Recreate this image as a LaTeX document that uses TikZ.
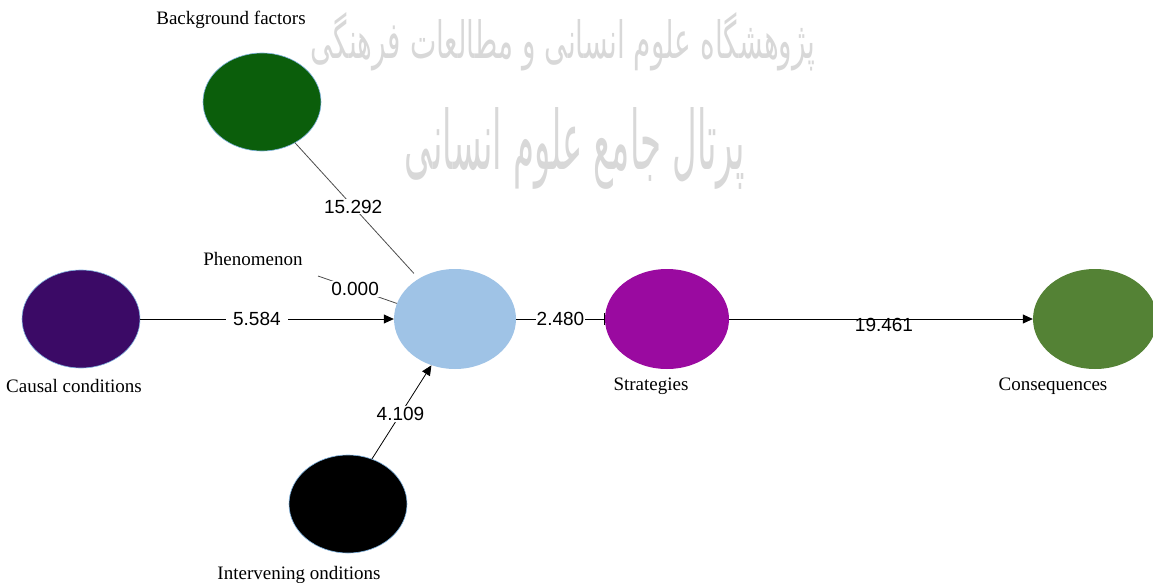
\documentclass[tikz,border=0pt]{standalone}
\usepackage{fontspec}
\usepackage{graphicx}
\setmainfont{Liberation Serif}
\newfontfamily\numfont{Liberation Sans}
\newfontfamily\wmfont[Script=Arabic]{DejaVu Sans}
\TeXXeTstate=1
\usetikzlibrary{shapes.geometric,arrows.meta}
\definecolor{bgc}{HTML}{0B5E0B}
\definecolor{cac}{HTML}{3B0A66}
\definecolor{phc}{HTML}{9FC3E6}
\definecolor{stc}{HTML}{9A0AA0}
\definecolor{coc}{HTML}{548235}
\definecolor{rimc}{HTML}{7FB3E0}
\definecolor{wmc}{HTML}{D8D8D8}
\begin{document}
\begin{tikzpicture}[x=1pt,y=-1pt,
  blob/.style={ellipse,minimum width=118pt,minimum height=98pt,inner sep=0pt},
  rim/.style={draw=rimc,line width=0.6pt},
  lab/.style={font=\fontsize{19}{21}\selectfont,inner sep=0pt},
  num/.style={font=\numfont\fontsize{19}{21}\selectfont,inner sep=1pt},
  conn/.style={line width=0.8pt,draw=black},
  tip/.style={-{Triangle[length=10pt,width=9pt]}}]
\useasboundingbox (0,0) rectangle (1153,583);
\clip (0,0) rectangle (1153,583);
% watermark
\node[text=wmc,inner sep=0pt] (wm1) at (563,42) {\resizebox{505pt}{46pt}{\wmfont\beginR پژوهشگاه علوم انسانی و مطالعات فرهنگی\endR}};
\node[text=wmc,inner sep=0pt] (wm2) at (575,148) {\resizebox{340pt}{62pt}{\wmfont\beginR پرتال جامع علوم انسانی\endR}};
% ellipses
\node[blob,rim,fill=bgc] (bg) at (262,102) {};
\node[blob,rim,fill=cac] (ca) at (81,319) {};
\node[blob,fill=phc,minimum width=122pt,minimum height=100pt] (ph) at (455,319) {};
\node[blob,fill=stc,minimum width=124pt,minimum height=100pt] (st) at (667,319) {};
\node[blob,fill=coc,minimum width=124pt,minimum height=100pt] (co) at (1095,319) {};
\node[blob,rim,fill=black] (iv) at (348,504) {};
% text labels
\node[lab] (tbg) at (231,20) {Background factors};
\node[lab] (tph) at (253,259) {Phenomenon};
\node[lab] (tca) at (74,386) {Causal conditions};
\node[lab] (tst) at (651,386) {Strategies};
\node[lab] (tco) at (1053,386) {Consequences};
\node[lab] (tiv) at (299,575) {Intervening onditions};
% connectors
\draw[conn,draw=black!70,shorten >=7pt] (bg.309) -- node[num,fill=white,pos=0.47] (n1) {15.292} (ph.132);
\coordinate (p0) at (318,276);
\draw[conn,draw=black!70] (p0) -- node[num,fill=white,pos=0.47] (n2) {0.000} (ph.165);
\draw[conn,tip] (ca.east) -- node[num,fill=white,inner xsep=7pt,pos=0.46] (n3) {5.584} (ph.west);
\draw[conn,tip] (iv.62) -- node[num,fill=white,pos=0.48] (n4) {4.109} (ph.243);
\draw[conn,-{Bar[width=12pt]}] (ph.east) -- node[num,fill=white] (n5) {2.480} (st.west);
\draw[conn,tip] (st.east) -- (co.west);
\node[num] (n6) at (884,325) {19.461};
\end{tikzpicture}
\end{document}
